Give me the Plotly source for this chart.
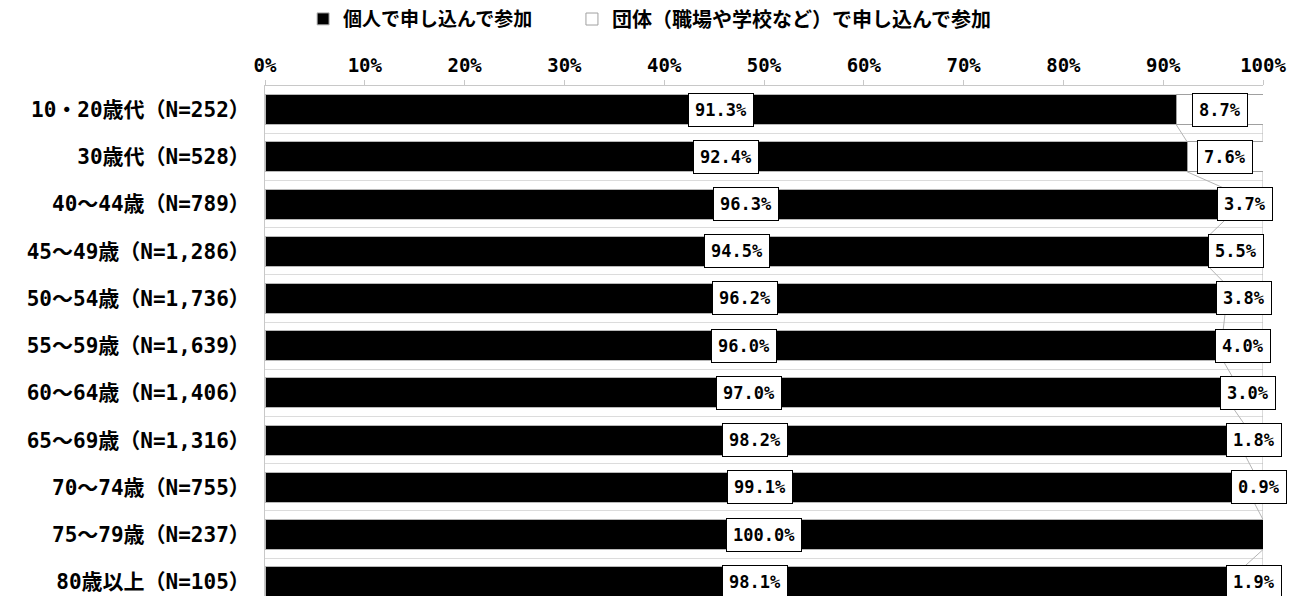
import plotly.graph_objects as go

categories = ["10・20歳代（N=252）", "30歳代（N=528）", "40～44歳（N=789）", "45～49歳（N=1,286）",
              "50～54歳（N=1,736）", "55～59歳（N=1,639）", "60～64歳（N=1,406）", "65～69歳（N=1,316）",
              "70～74歳（N=755）", "75～79歳（N=237）", "80歳以上（N=105）"]
individual = [91.3, 92.4, 96.3, 94.5, 96.2, 96.0, 97.0, 98.2, 99.1, 100.0, 98.1]
group = [8.7, 7.6, 3.7, 5.5, 3.8, 4.0, 3.0, 1.8, 0.9, 0.0, 1.9]
series_names = ["個人で申し込んで参加", "団体（職場や学校など）で申し込んで参加"]
tick_values = [0, 10, 20, 30, 40, 50, 60, 70, 80, 90, 100]
tick_labels = [f"{v}%" for v in tick_values]

FONT = "DejaVu Sans Mono, Noto Sans CJK JP"
n = len(categories)
ypos = list(range(n))
BW = 0.635
half = BW / 2

fig = go.Figure()
fig.add_trace(go.Bar(y=ypos, x=individual, orientation="h", name=series_names[0],
                     marker=dict(color="black", line=dict(color="#b8b8b8", width=1)), width=BW,
                     legend="legend"))
fig.add_trace(go.Bar(y=ypos, x=group, orientation="h", name=series_names[1],
                     marker=dict(color="white", line=dict(color="#a0a0a0", width=1)), width=BW,
                     legend="legend2"))

# series lines (connectors between stacked segment edges)
sx, sy = [], []
for i in range(n - 1):
    a = individual[i]
    b = individual[i + 1]
    sx += [a, b, None]
    sy += [i + half, i + 1 - half, None]
    ta = individual[i] + group[i]
    tb = individual[i + 1] + group[i + 1]
    sx += [ta, tb, None]
    sy += [i + half, i + 1 - half, None]
fig.add_trace(go.Scatter(x=sx, y=sy, mode="lines", line=dict(color="#b4b4b4", width=1),
                         showlegend=False, hoverinfo="skip"))

LBL = dict(family=FONT, size=17, color="black", weight="bold")
for i in range(n):
    fig.add_annotation(x=individual[i] / 2, y=i, text=f"{individual[i]:.1f}%", showarrow=False,
                       font=LBL, bgcolor="white", bordercolor="black", borderwidth=1, borderpad=6)
    if group[i] > 0:
        fig.add_annotation(x=individual[i] + group[i] / 2, y=i, text=f"{group[i]:.1f}%", showarrow=False,
                           font=LBL, bgcolor="white", bordercolor="black", borderwidth=1, borderpad=6)

LEG = dict(orientation="h", xref="container", yref="container", y=0.9815,
           xanchor="left", yanchor="middle", font=dict(size=19, weight="bold"), itemwidth=30)
fig.update_layout(
    width=1300, height=596,
    barmode="stack",
    plot_bgcolor="white", paper_bgcolor="white",
    margin=dict(l=257, r=45, t=78, b=0),
    font=dict(family=FONT, color="black", weight="bold"),
    legend=dict(LEG, x=0.227),
    legend2=dict(LEG, x=0.4338, font=dict(size=20, weight="bold")),
    xaxis=dict(side="top", range=[0, 100], tickvals=tick_values, ticktext=tick_labels,
               showgrid=False, zeroline=False, showline=True, linecolor="#c8c8c8",
               ticks="outside", tickcolor="#c8c8c8", ticklen=5,
               tickfont=dict(size=19, weight="bold")),
    yaxis=dict(range=[10.47, -0.5], tickvals=ypos, ticktext=categories, showgrid=False,
               zeroline=False, showline=True, linecolor="#c8c8c8", ticks="",
               tickfont=dict(size=21, weight="bold"), ticklabelstandoff=10,
               minor=dict(tickvals=[i + 0.5 for i in range(-1, n)], showgrid=True,
                          gridcolor="#dcdcdc", gridwidth=1, ticks="")),
)

fig.write_html("out.html")
